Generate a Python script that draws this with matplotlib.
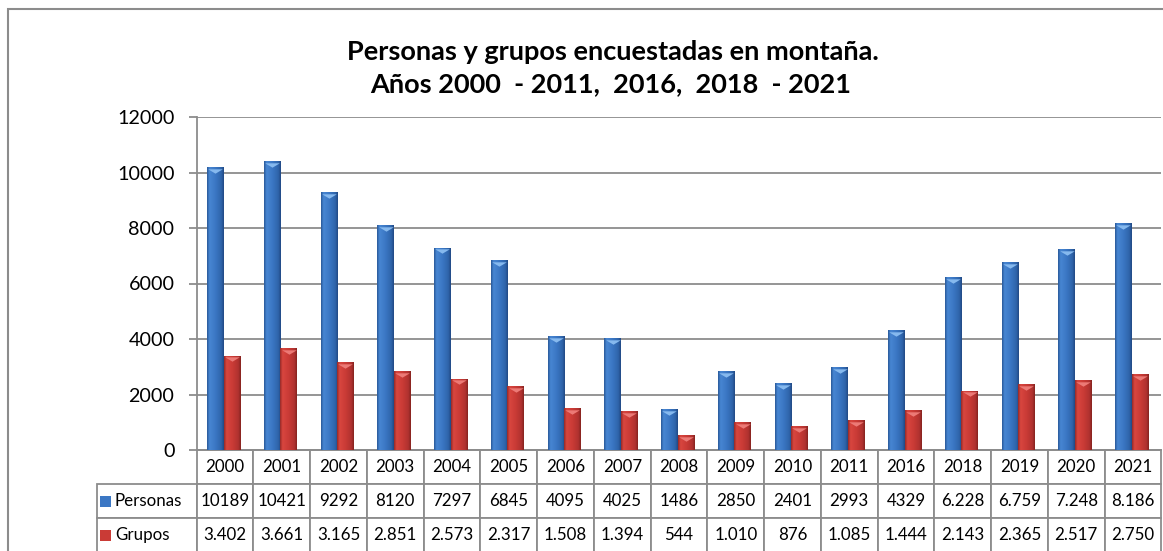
import matplotlib as mpl
mpl.use('Agg')
import matplotlib.pyplot as plt
import numpy as np
from matplotlib.table import Table
from matplotlib.patches import Rectangle
from matplotlib.colors import LinearSegmentedColormap
from matplotlib.path import Path

plt.rcParams['font.family'] = ['Lato', 'DejaVu Sans']

# data
years = ['2000', '2001', '2002', '2003', '2004', '2005', '2006', '2007', '2008',
         '2009', '2010', '2011', '2016', '2018', '2019', '2020', '2021']
personas = [10189, 10421, 9292, 8120, 7297, 6845, 4095, 4025, 1486,
            2850, 2401, 2993, 4329, 6228, 6759, 7248, 8186]
grupos = [3402, 3661, 3165, 2851, 2573, 2317, 1508, 1394, 544,
          1010, 876, 1085, 1444, 2143, 2365, 2517, 2750]
personas_txt = ['10189', '10421', '9292', '8120', '7297', '6845', '4095', '4025', '1486',
                '2850', '2401', '2993', '4329', '6.228', '6.759', '7.248', '8.186']
grupos_txt = ['3.402', '3.661', '3.165', '2.851', '2.573', '2.317', '1.508', '1.394', '544',
              '1.010', '876', '1.085', '1.444', '2.143', '2.365', '2.517', '2.750']
series_names = ['Personas', 'Grupos']
title_lines = ['Personas y grupos encuestadas en montaña.',
               'Años 2000  - 2011,  2016,  2018  - 2021']

W, H = 1163, 551
def fx(px): return px / W
def fy(py): return 1 - py / H

grey = '#8c8c8c'
blue_cm = LinearSegmentedColormap.from_list('blu', [(0, '#2a5a9a'), (0.15, '#4786d2'), (0.5, '#3b77c4'),
                                                    (0.85, '#2f64aa'), (1, '#214a85')])
red_cm = LinearSegmentedColormap.from_list('rd', [(0, '#982a28'), (0.15, '#d8463f'), (0.5, '#ca3b36'),
                                                  (0.85, '#b03230'), (1, '#86231f')])

fig = plt.figure(figsize=(11.63, 5.51), dpi=100)
ax_l, ax_r, ax_t, ax_b = 196.6, 1161.4, 117, 450
axw, axh = ax_r - ax_l, ax_b - ax_t
ax = fig.add_axes([fx(ax_l), fy(ax_b), axw / W, axh / H])

x = np.arange(len(years))
bw = 0.29
b1 = ax.bar(x - 0.17, personas, bw, color='#3b77c4', zorder=3)
b2 = ax.bar(x + 0.12, grupos, bw, color='#ca3b36', zorder=3)

# cylinder-like shading
grad = np.linspace(0, 1, 64).reshape(1, -1)
for bars, cm in [(b1, blue_cm), (b2, red_cm)]:
    for b in bars:
        im = ax.imshow(grad, cmap=cm, aspect='auto', zorder=3.1,
                       extent=[b.get_x(), b.get_x() + b.get_width(), 0, b.get_height()])
        im.set_clip_path(b)

cap = Path([(-1, 0.3), (1, 0.3), (0, -0.3), (-1, 0.3)])
ax.scatter(x - 0.17, np.array(personas) - 140, marker=cap, s=110, color='#86b9ee', zorder=4, linewidths=0)
ax.scatter(x + 0.12, np.array(grupos) - 140, marker=cap, s=110, color='#ec7a76', zorder=4, linewidths=0)

ax.set_xlim(-0.5, len(years) - 0.5)
ax.set_ylim(0, 12000)
ax.set_yticks(range(0, 12001, 2000))
ax.set_xticks([])
ax.set_axisbelow(True)
ax.yaxis.grid(True, color=grey, lw=1.3)
for s in ['top', 'right']:
    ax.spines[s].set_visible(False)
for s in ['left', 'bottom']:
    ax.spines[s].set_color(grey)
    ax.spines[s].set_linewidth(1.3)
ax.tick_params(axis='y', labelsize=14.2, length=6, pad=10, color=grey, width=1.3)

# data table under the plot
row_h = 34 / axh
colw = 1 / len(years)
labw = (ax_l - 97) / axw
tb = Table(ax, loc='bottom')
tb.AXESPAD = 0
for j, yr in enumerate(years):
    tb.add_cell(0, j, width=colw, height=row_h, text=yr, loc='center')
    tb.add_cell(1, j, width=colw, height=row_h, text=personas_txt[j], loc='center')
    tb.add_cell(2, j, width=colw, height=row_h, text=grupos_txt[j], loc='center')
for i, name in enumerate(series_names):
    c = tb.add_cell(i + 1, -1, width=labw, height=row_h, text=name, loc='left')
    c.PAD = 0.18
tb.auto_set_font_size(False)
tb.set_fontsize(12.2)
for c in tb.get_celld().values():
    c.set_edgecolor(grey)
    c.set_linewidth(1.3)
ax.add_table(tb)

# legend keys inside the table row labels
for i, col in enumerate(['#3b77c4', '#ca3b36']):
    yc = ax_b + 34 * (i + 1.5)
    fig.add_artist(Rectangle((fx(100), fy(yc + 5.5)), 11 / W, 11 / H,
                             transform=fig.transFigure, fc=col, ec='none'))

# outer chart frame
fig.add_artist(Rectangle((fx(8), fy(600)), (1300 - 8) / W, (600 - 9) / H, transform=fig.transFigure,
                         fill=False, ec=grey, lw=1.5))

fig.text(fx(613), fy(52), title_lines[0], ha='center', va='center', fontsize=19.5, fontweight='bold')
fig.text(fx(611), fy(84), title_lines[1], ha='center', va='center', fontsize=19.5, fontweight='bold')

fig.savefig('out.png', dpi=100)
